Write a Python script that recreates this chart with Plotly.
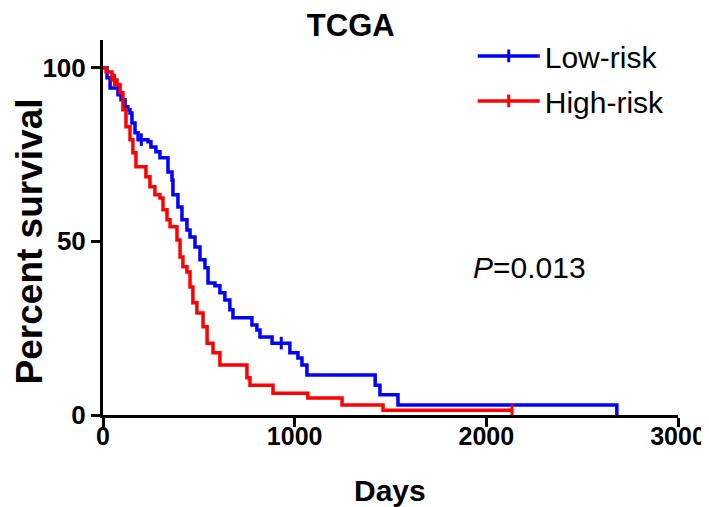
import plotly.graph_objects as go

# Kaplan-Meier step data (days, percent survival)
low_days = [0, 21, 37, 78, 94, 115, 130, 141, 151, 167, 183, 235, 250, 276, 297, 339, 360, 365,
            391, 412, 438, 454, 480, 506, 532, 548, 584, 610, 636, 662, 678, 777, 803, 819, 882,
            975, 1017, 1038, 1064, 1420, 1445, 1539, 2681, 2681]
low_surv = [100, 97.1, 94.2, 92.2, 90.8, 88.8, 87.9, 87.0, 84.1, 81.3, 79.3, 78.7, 77.2, 75.8,
            74.1, 70.0, 67.7, 63.4, 59.9, 56.2, 53.3, 51.3, 48.4, 44.7, 42.4, 38.0, 37.2, 35.2,
            33.1, 30.3, 28.0, 25.9, 24.5, 22.5, 20.7, 17.9, 16.4, 14.4, 11.5, 8.6, 5.8, 2.9, 2.9, 0]

high_days = [0, 16, 47, 73, 89, 104, 120, 141, 156, 172, 224, 245, 271, 297, 313, 334, 350, 386,
             402, 417, 438, 454, 469, 490, 522, 543, 574, 610, 751, 767, 887, 1069, 1247, 1461, 2134]
high_surv = [100, 98.8, 96.5, 95.1, 92.8, 87.9, 83.0, 79.3, 75.5, 71.5, 68.6, 65.7, 63.4, 62.5,
             59.1, 56.2, 54.2, 50.4, 45.5, 42.7, 41.2, 36.9, 32.3, 29.4, 25.4, 20.7, 17.9, 14.4,
             10.7, 8.6, 6.3, 4.9, 2.9, 1.4, 1.4]

# censored observations (tick marks)
low_cens_days = [200, 930]
low_cens_surv = [79.3, 20.7]
high_cens_days = [60, 2134]
high_cens_surv = [96.5, 1.4]

x_ticks = [0, 1000, 2000, 3000]
y_ticks = [0, 50, 100]

BLUE = "#0000FF"
RED = "#FF0000"
FONT = "Liberation Sans, Arial, sans-serif"

fig = go.Figure()

for name, d, s, cd, cs, col, grp in [
    ("Low-risk", low_days, low_surv, low_cens_days, low_cens_surv, BLUE, "a"),
    ("High-risk", high_days, high_surv, high_cens_days, high_cens_surv, RED, "b"),
]:
    fig.add_trace(go.Scatter(x=d, y=s, mode="lines", line=dict(color=col, width=3.5, shape="hv"),
                             showlegend=False, legendgroup=grp, hoverinfo="x+y"))
    fig.add_trace(go.Scatter(x=cd, y=cs, mode="markers",
                             marker=dict(symbol="line-ns-open", size=9, color=col,
                                         line=dict(color=col, width=3)),
                             showlegend=False, legendgroup=grp))
    fig.add_trace(go.Scatter(x=[None], y=[None], mode="lines+markers", name=name,
                             line=dict(color=col, width=3.5),
                             marker=dict(symbol="line-ns-open", size=9, color=col,
                                         line=dict(color=col, width=3)),
                             legendgroup=grp))

# page has an 8px body margin: the figure is sized so it fills the window from (8, 8)
fig.update_layout(
    width=701, height=499,
    margin=dict(l=95, r=31, t=32, b=92),
    paper_bgcolor="white", plot_bgcolor="white",
    font=dict(family=FONT, color="black"),
    title=dict(text="<b>TCGA</b>", x=0.489, xanchor="center", y=0.965, yanchor="middle",
               font=dict(size=31, family=FONT, color="black")),
    legend=dict(x=0.643, y=1.027, xanchor="left", yanchor="top", font=dict(size=30, family=FONT),
                bgcolor="rgba(0,0,0,0)", tracegroupgap=3, itemwidth=62),
    showlegend=True,
)

fig.update_xaxes(range=[0, 3000], tickvals=x_ticks, ticktext=[str(v) for v in x_ticks],
                 automargin=False, ticklabelstandoff=-12,
                 showgrid=False, zeroline=False, showline=True, linecolor="black", linewidth=3,
                 ticks="outside", ticklen=9, tickwidth=3, tickcolor="black",
                 tickfont=dict(size=25, family=FONT, color="black", weight="bold"))
fig.update_yaxes(range=[0, 108], tickvals=y_ticks, ticktext=[str(v) for v in y_ticks],
                 automargin=False,
                 showgrid=False, zeroline=False, showline=True, linecolor="black", linewidth=3,
                 ticks="outside", ticklen=9, tickwidth=3, tickcolor="black",
                 tickfont=dict(size=26, family=FONT, color="black", weight="bold"))

# axis titles
fig.add_annotation(x=-0.128, y=0.464, xref="paper", yref="paper", text="<b>Percent survival</b>",
                   textangle=-90, showarrow=False, font=dict(size=37, family=FONT, color="black"),
                   xanchor="center", yanchor="middle")
fig.add_annotation(x=0.499, y=-0.2, xref="paper", yref="paper", text="<b>Days</b>",
                   showarrow=False, font=dict(size=30, family=FONT, color="black"),
                   xanchor="center", yanchor="middle")

fig.add_annotation(x=2227, y=42.4, xref="x", yref="y", text="<i>P</i>=0.013", showarrow=False,
                   font=dict(size=30, family=FONT, color="black"), xanchor="center", yanchor="middle")

fig.write_html("out.html")
